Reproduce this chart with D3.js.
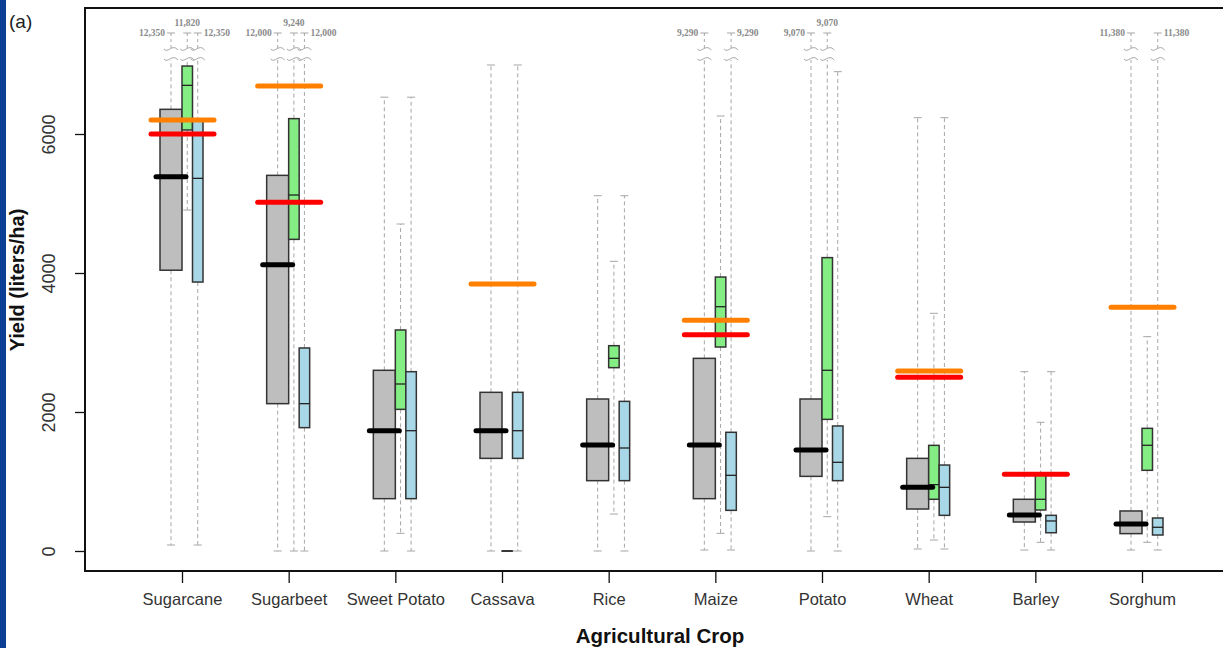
<!DOCTYPE html>
<html>
<head>
<meta charset="utf-8">
<script src="https://cdn.jsdelivr.net/npm/d3@7"></script>
<style>
  html, body { margin: 0; padding: 0; background: #fff; }
  svg { display: block; font-family: "Liberation Sans", Arial, sans-serif; }
</style>
</head>
<body>
<svg id="chart" width="1223" height="648"></svg>
<script>
// ---------------- DATA ----------------
const categories = ["Sugarcane","Sugarbeet","Sweet Potato","Cassava","Rice","Maize","Potato","Wheat","Barley","Sorghum"];
const yTicks = [0, 2000, 4000, 6000];

// gray series
const grayLow  = [86, 0, 0, 0, 0, 14, 0, 29, 14, 14];
const grayQ1   = [4040, 2120, 753, 1333, 1012, 753, 1074, 604, 417, 250];
const grayMed  = [5386, 4120, 1731, 1731, 1525, 1525, 1453, 916, 518, 388];
const grayQ3   = [6355, 5405, 2600, 2283, 2187, 2772, 2187, 1333, 744, 576];
const grayHigh = [12350, 12000, 6530, 6993, 5112, 9290, 9070, 6235, 2580, 11380];

// green series
const greenLow  = [4906, 0, 254, 0, 532, 254, 494, 158, 125, 125];
const greenQ1   = [6058, 4484, 2038, 0, 2638, 2935, 1894, 744, 590, 1161];
const greenMed  = [6700, 5122, 2403, 0, 2772, 3515, 2600, 955, 744, 1521];
const greenQ3   = [6978, 6221, 3180, 0, 2954, 3942, 4221, 1520, 1100, 1765];
const greenHigh = [11820, 9240, 4705, 0, 4168, 6259, 9070, 3420, 1852, 3084];

// blue series
const blueLow  = [86, 0, 0, 0, 0, 14, 0, 29, 14, 14];
const blueQ1   = [3870, 1775, 753, 1333, 1012, 585, 1012, 513, 263, 230];
const blueMed  = [5362, 2120, 1731, 1731, 1482, 1089, 1276, 916, 432, 341];
const blueQ3   = [6190, 2921, 2580, 2283, 2153, 1708, 1799, 1237, 513, 475];
const blueHigh = [12350, 12000, 6530, 6993, 5112, 9290, 6897, 6235, 2580, 11380];

// reference lines
const orangeTarget = [6200, 6691, null, 3842, null, 3319, null, 2590, null, 3506];
const redTarget    = [6000, 5017, null, null, null, 3113, null, 2499, 1103, null];

// ---------------- LAYOUT ----------------
const svg = d3.select("#chart");
const W = 1223, H = 648;
const plotLeft = 85, plotTop = 8, plotBottom = 571, plotRight = 1232;

const x = d3.scalePoint().domain(categories).range([182, 1142]);
const y = d3.scaleLinear().domain([0, 6000]).range([551, 134]);
const yMaxVisible = y.invert(plotTop + 20);

// left blue strip
svg.append("rect").attr("x", 0).attr("y", 0).attr("width", 6).attr("height", H).attr("fill", "#0b3f93");

// "(a)"
svg.append("text").attr("x", 9).attr("y", 28).attr("font-size", 19).attr("fill", "#222").text("(a)");

const series = [
  { key: "gray",  low: grayLow,  q1: grayQ1,  med: grayMed,  q3: grayQ3,  high: grayHigh,  off: -22, w: 22,   fill: "#bebebe", labelPos: "left"  },
  { key: "green", low: greenLow, q1: greenQ1, med: greenMed, q3: greenQ3, high: greenHigh, off: 0,   w: 10.5, fill: "#84ee84", labelPos: "top"   },
  { key: "blue",  low: blueLow,  q1: blueQ1,  med: blueMed,  q3: blueQ3,  high: blueHigh,  off: 10.5,w: 10.5, fill: "#a8d8e8", labelPos: "right" }
];

const gW = svg.append("g").attr("class", "whiskers");
const gB = svg.append("g").attr("class", "boxes");
const gM = svg.append("g").attr("class", "medians");
const gT = svg.append("g").attr("class", "targets");

const whiskColor = "#a6a6a6";
const dash = "4,3";
const capY = 33, sqTop = 49, sqBot = 59;
const fmt = d3.format(",");

function squiggle(cx, yy) {
  return `M${cx-7},${yy} C${cx-3},${yy+5} ${cx+1},${yy-6} ${cx+7},${yy+1}`;
}

series.forEach(s => {
  categories.forEach((c, i) => {
    const cx = x(c) + s.off + s.w / 2;
    const x0 = x(c) + s.off;
    const lo = s.low[i], q1 = s.q1[i], md = s.med[i], q3 = s.q3[i], hi = s.high[i];

    // lower whisker
    if (lo < q1) {
      gW.append("line").attr("x1", cx).attr("x2", cx).attr("y1", y(q1)).attr("y2", y(lo))
        .attr("stroke", whiskColor).attr("stroke-dasharray", dash).attr("stroke-width", 1);
      gW.append("line").attr("x1", cx - 4).attr("x2", cx + 4).attr("y1", y(lo)).attr("y2", y(lo))
        .attr("stroke", whiskColor).attr("stroke-width", 1);
    }
    // upper whisker
    if (hi > q3) {
      if (hi > yMaxVisible) {
        // broken whisker
        gW.append("line").attr("x1", cx).attr("x2", cx).attr("y1", y(q3)).attr("y2", sqBot + 1)
          .attr("stroke", whiskColor).attr("stroke-dasharray", dash).attr("stroke-width", 1);
        gW.append("line").attr("x1", cx).attr("x2", cx).attr("y1", capY).attr("y2", sqTop - 1)
          .attr("stroke", whiskColor).attr("stroke-dasharray", "3,3").attr("stroke-width", 1);
        gW.append("line").attr("x1", cx - 4).attr("x2", cx + 4).attr("y1", capY).attr("y2", capY)
          .attr("stroke", whiskColor).attr("stroke-width", 1);
        [sqTop, sqBot].forEach(yy => {
          gW.append("path").attr("d", squiggle(cx, yy)).attr("fill", "none")
            .attr("stroke", whiskColor).attr("stroke-width", 1);
        });
        const t = gW.append("text").attr("font-family", "'Liberation Serif', serif")
          .attr("font-weight", "bold").attr("font-size", 9.5).attr("fill", "#8a8a8a").text(fmt(hi));
        if (s.labelPos === "left") t.attr("x", cx - 6).attr("y", capY + 3).attr("text-anchor", "end");
        else if (s.labelPos === "right") t.attr("x", cx + 6).attr("y", capY + 3).attr("text-anchor", "start");
        else t.attr("x", cx).attr("y", capY - 7).attr("text-anchor", "middle");
      } else {
        gW.append("line").attr("x1", cx).attr("x2", cx).attr("y1", y(q3)).attr("y2", y(hi))
          .attr("stroke", whiskColor).attr("stroke-dasharray", dash).attr("stroke-width", 1);
        gW.append("line").attr("x1", cx - 4).attr("x2", cx + 4).attr("y1", y(hi)).attr("y2", y(hi))
          .attr("stroke", whiskColor).attr("stroke-width", 1);
      }
    }
    // box
    gB.append("rect").attr("x", x0).attr("y", y(q3)).attr("width", s.w)
      .attr("height", Math.max(0.01, y(q1) - y(q3)))
      .attr("fill", s.fill).attr("stroke", "#333").attr("stroke-width", 1.5);
    // median
    if (s.key === "gray") {
      gM.append("line").attr("x1", cx - 15).attr("x2", cx + 15).attr("y1", y(md)).attr("y2", y(md))
        .attr("stroke", "#000").attr("stroke-width", 5).attr("stroke-linecap", "round");
    } else {
      gB.append("line").attr("x1", x0).attr("x2", x0 + s.w).attr("y1", y(md)).attr("y2", y(md))
        .attr("stroke", "#222").attr("stroke-width", 1.3);
    }
  });
});

// target lines
[[orangeTarget, "#ff8000"], [redTarget, "#ff0000"]].forEach(([arr, col]) => {
  categories.forEach((c, i) => {
    if (arr[i] == null) return;
    gT.append("line").attr("x1", x(c) - 31).attr("x2", x(c) + 32)
      .attr("y1", y(arr[i])).attr("y2", y(arr[i]))
      .attr("stroke", col).attr("stroke-width", 5).attr("stroke-linecap", "round");
  });
});

// frame
svg.append("rect").attr("x", plotLeft).attr("y", plotTop).attr("width", plotRight - plotLeft)
  .attr("height", plotBottom - plotTop).attr("fill", "none").attr("stroke", "#111").attr("stroke-width", 2);

// y axis
const yAxis = svg.append("g").attr("transform", `translate(${plotLeft},0)`)
  .call(d3.axisLeft(y).tickValues(yTicks).tickSize(10).tickFormat(d => d));
yAxis.select(".domain").remove();
yAxis.selectAll(".tick line").attr("stroke", "#111").attr("stroke-width", 1.3);
yAxis.selectAll(".tick text")
  .attr("x", null).attr("dy", null)
  .attr("text-anchor", "middle").attr("font-size", 18).attr("fill", "#333")
  .attr("font-family", "'Liberation Sans', Arial, sans-serif")
  .attr("transform", "translate(-36,0) rotate(-90)").attr("y", 0).attr("dy", "0.35em");

// x axis
const xAxis = svg.append("g").attr("transform", `translate(0,${plotBottom})`)
  .call(d3.axisBottom(x).tickSize(12).tickPadding(10));
xAxis.select(".domain").remove();
xAxis.selectAll(".tick line").attr("stroke", "#111").attr("stroke-width", 1.3);
xAxis.selectAll(".tick text").attr("font-size", 16.5).attr("fill", "#333")
  .attr("font-family", "'Liberation Sans', Arial, sans-serif");

// axis titles
svg.append("text").attr("x", 660).attr("y", 643).attr("text-anchor", "middle")
  .attr("font-size", 20.5).attr("font-weight", "bold").attr("fill", "#111").text("Agricultural Crop");
svg.append("text").attr("transform", "translate(24,280) rotate(-90)").attr("text-anchor", "middle")
  .attr("font-size", 20).attr("font-weight", "bold").attr("fill", "#111").text("Yield (liters/ha)");
</script>
</body>
</html>
